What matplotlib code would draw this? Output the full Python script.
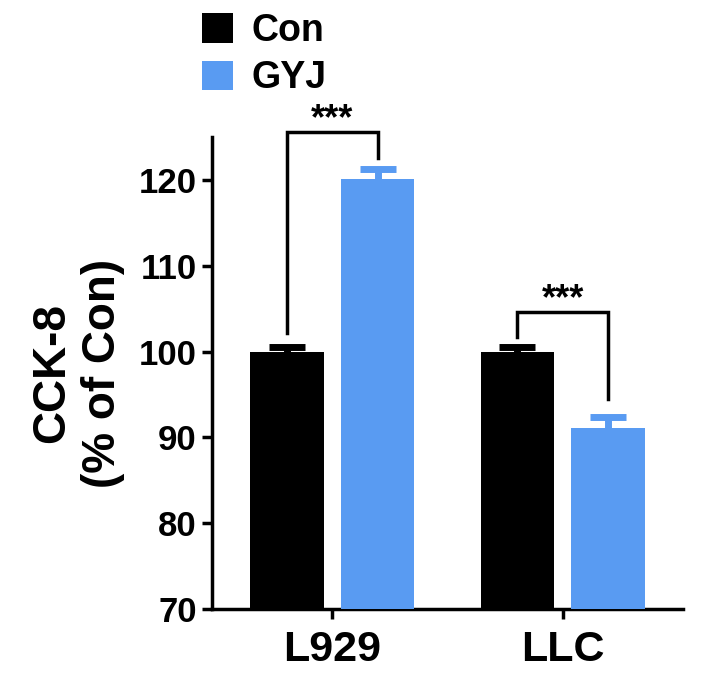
import matplotlib
matplotlib.use("Agg")
import matplotlib.pyplot as plt
import numpy as np

plt.rcParams['font.family'] = ['Liberation Sans', 'DejaVu Sans']
plt.rcParams['font.weight'] = 'bold'

groups = ["L929", "LLC"]
series = ["Con", "GYJ"]
con_vals = [100.0, 100.0]
con_err = [0.5, 0.5]
gyj_vals = [120.1, 91.1]
gyj_err = [1.2, 1.3]
sig_labels = ["***", "***"]
yticks = [70, 80, 90, 100, 110, 120]

BLACK = "#000000"
BLUE = "#599BF2"

W, H = 712, 686
fig = plt.figure(figsize=(W / 100, H / 100), dpi=100)
ax = fig.add_axes([212 / W, 1 - 609 / H, 471 / W, 472 / H])

x = np.arange(len(groups))
off = 0.197
bw = 0.32

ax.bar(x - off, con_vals, bw, color=BLACK, zorder=3, label=series[0])
ax.bar(x + off, gyj_vals, bw, color=BLUE, zorder=3, label=series[1])

capsize = 13.3
ax.errorbar(x - off, con_vals, yerr=con_err, fmt='none',
            ecolor=BLACK, elinewidth=5, capsize=capsize, capthick=5, zorder=2)
ax.errorbar(x + off, gyj_vals, yerr=gyj_err, fmt='none',
            ecolor=BLUE, elinewidth=5, capsize=capsize, capthick=5, zorder=2)

ax.set_ylim(70, 125)
ax.set_xlim(-0.52, 1.52)
ax.set_yticks(yticks)
ax.set_xticks(x)
ax.set_xticklabels(groups, fontsize=31, fontweight='bold')
ax.tick_params(axis='y', labelsize=25, width=2.5, length=7, pad=4)
ax.tick_params(axis='x', width=2.5, length=7, pad=8)
for lab in ax.get_yticklabels():
    lab.set_fontweight('bold')

for s in ['top', 'right']:
    ax.spines[s].set_visible(False)
for s in ['left', 'bottom']:
    ax.spines[s].set_linewidth(2.5)

ax.set_ylabel("CCK-8\n(% of Con)", fontsize=33, fontweight='bold', labelpad=10)

# significance brackets
brackets = [
    # (x_left, x_right, y_top, y_left_bottom, y_right_bottom, star_y)
    (0 - off, 0 + off, 125.6, 102.2, 122.6, 125.9),
    (1 - off, 1 + off, 104.6, 101.7, 94.5, 104.9),
]
for (xl, xr, yt, ylb, yrb, sy), lab in zip(brackets, sig_labels):
    ax.plot([xl, xl, xr, xr], [ylb, yt, yt, yrb], color='black', lw=2.5,
            clip_on=False, zorder=4, solid_joinstyle='miter')
    ax.text((xl + xr) / 2, sy, lab, ha='center', va='baseline', fontsize=26,
            fontweight='bold', clip_on=False)

leg = ax.legend(loc='upper left', bbox_to_anchor=(202 / W, 1 - 13 / H),
                bbox_transform=fig.transFigure, frameon=False, fontsize=27,
                handlelength=0.82, handleheight=0.82, handletextpad=0.5,
                labelspacing=0.3, borderaxespad=0, borderpad=0)
for t in leg.get_texts():
    t.set_fontweight('bold')

fig.savefig("out.png", dpi=100)
